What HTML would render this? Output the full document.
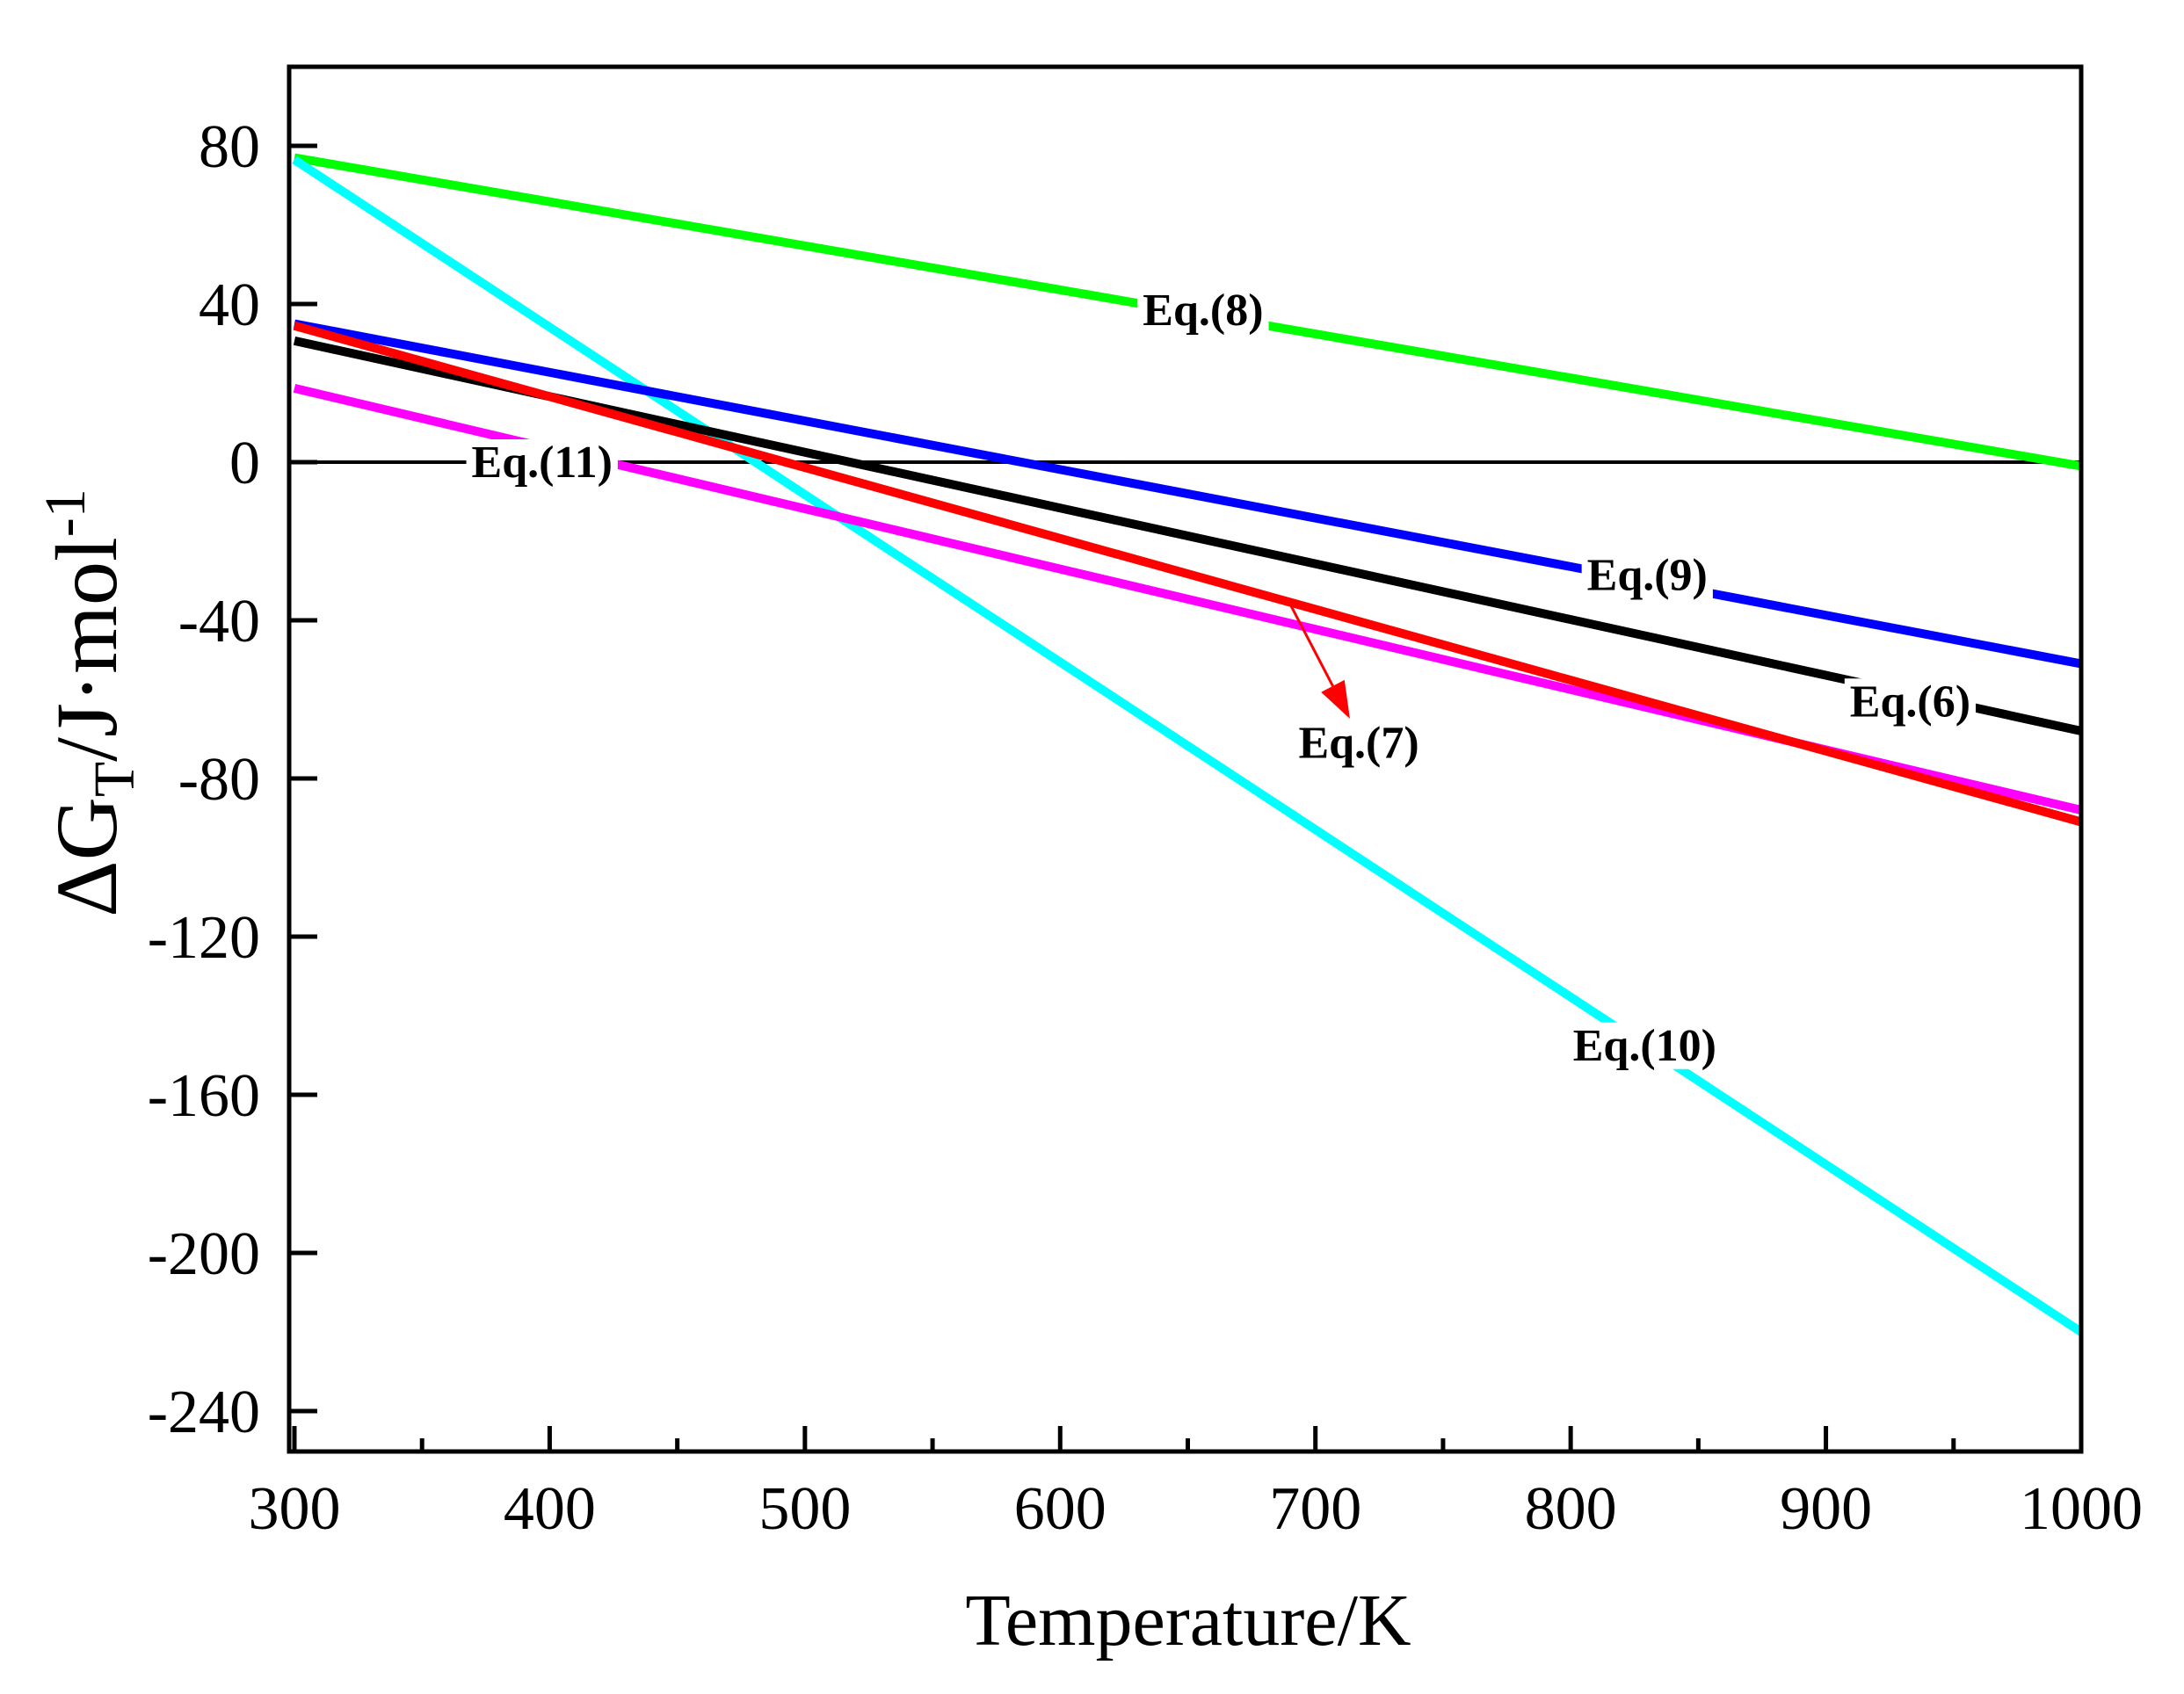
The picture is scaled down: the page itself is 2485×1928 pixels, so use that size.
<!DOCTYPE html>
<html><head><meta charset="utf-8"><style>
html,body{margin:0;padding:0;background:#fff;}
svg{display:block;font-family:"Liberation Serif",serif;}
</style></head><body>
<svg id="chart" width="2485" height="1928" viewBox="0 0 2485 1928" xmlns="http://www.w3.org/2000/svg">
<rect x="0" y="0" width="2485" height="1928" fill="#fff"/>
<g id="plot"></g>
</svg>
<script>
const xTicks = [300,400,500,600,700,800,900,1000];
const yTicks = [80,40,0,-40,-80,-120,-160,-200,-240];
const yTickLabels = ["80","40","0","-40","-80","-120","-160","-200","-240"];
const seriesNames = ["eq6","eq7","eq8","eq9","eq10","eq11"];
const tempPoints = [300,1000];
const eq6Values = [30.7,-68];
const eq7Values = [34.5,-91];
const eq8Values = [77,-1];
const eq9Values = [35,-51];
const eq10Values = [76.5,-220];
const eq11Values = [18.7,-88];
const labelText = ["Eq.(8)","Eq.(11)","Eq.(9)","Eq.(6)","Eq.(7)","Eq.(10)"];
const labelT = [656,397,830,933,717,829];
const labelV = [38.4,0,-28.5,-60.5,-71,-147.5];

const NS="http://www.w3.org/2000/svg";
const L=329,R=2368,T=76,B=1652;
function X(v){return 335+(v-300)*(2368-335)/700;}
function Y(v){return 526-v*4.5;}
const g=document.getElementById('plot');
function mk(tag,attrs,parent){const e=document.createElementNS(NS,tag);for(const k in attrs)e.setAttribute(k,attrs[k]);(parent||g).appendChild(e);return e;}

let zl=mk('line',{x1:L,x2:R,y1:Y(0),y2:Y(0),stroke:'#000','stroke-width':4});



const series=[
 {vals:eq8Values,color:'#00ff00',name:'line-eq8'},
 {vals:eq10Values,color:'#00ffff',name:'line-eq10'},
 {vals:eq9Values,color:'#0000ff',name:'line-eq9'},
 {vals:eq6Values,color:'#000000',name:'line-eq6'},
 {vals:eq11Values,color:'#ff00ff',name:'line-eq11'},
 {vals:eq7Values,color:'#ff0000',name:'line-eq7'}
];
const clip=mk('clipPath',{id:'pc'});
mk('rect',{x:L,y:T,width:R-L,height:B-T},clip);
series.forEach(s=>{
  const pts=tempPoints.map((t,i)=>X(t)+','+Y(s.vals[i])).join(' ');
  const p=mk('polyline',{points:pts,fill:'none',stroke:s.color,'stroke-width':10,'clip-path':'url(#pc)'});
  
  
});

const ax1=X(690),ay1=Y(-35.8),ax2=X(713.5),ay2=Y(-64.9);
const ang=Math.atan2(ay2-ay1,ax2-ax1);
const hl=42,hw=15;
const bx=ax2-hl*Math.cos(ang),by=ay2-hl*Math.sin(ang);
let al=mk('line',{x1:ax1,y1:ay1,x2:bx,y2:by,stroke:'#ff0000','stroke-width':3});


let ah=mk('polygon',{points:`${ax2},${ay2} ${bx+hw*Math.sin(ang)},${by-hw*Math.cos(ang)} ${bx-hw*Math.sin(ang)},${by+hw*Math.cos(ang)}`,fill:'#ff0000'});



labelText.forEach((t,i)=>{
  const hasBg = i!==4;
  let bg=null;
  if(hasBg){
    bg=mk('rect',{fill:'#fff'});
    
    
  }
  const tx=mk('text',{x:X(labelT[i]),y:Y(labelV[i])+17,'text-anchor':'middle','font-size':52,'font-weight':'bold',fill:'#000'});
  tx.textContent=t;
  
  
  if(bg){
    const bb=tx.getBBox();
    bg.setAttribute('x',bb.x-6);bg.setAttribute('y',bb.y+2);
    bg.setAttribute('width',bb.width+12);bg.setAttribute('height',bb.height-4);
  }
});

let fr=mk('rect',{x:L,y:T,width:R-L,height:B-T,fill:'none',stroke:'#000','stroke-width':5});



xTicks.forEach(v=>{
  let t=mk('line',{x1:X(v),x2:X(v),y1:B,y2:B-29,stroke:'#000','stroke-width':5});
  
  
  let tl=mk('text',{x:X(v),y:1740,'text-anchor':'middle','font-size':70,fill:'#000'});
  tl.textContent=String(v);
  
  
});
for(let v=350;v<1000;v+=100){
  let t=mk('line',{x1:X(v),x2:X(v),y1:B,y2:B-15,stroke:'#000','stroke-width':5});
  
  
}
yTicks.forEach((v,i)=>{
  let t=mk('line',{x1:L,x2:L+32,y1:Y(v),y2:Y(v),stroke:'#000','stroke-width':5});
  
  
  let tl=mk('text',{x:296,y:Y(v)+24,'text-anchor':'end','font-size':70,fill:'#000'});
  tl.textContent=yTickLabels[i];
  
  
});
for(let v=100;v>=-240;v-=40){
  let vv=v-20; if(vv<=-250) continue;
  let t=mk('line',{x1:L,x2:L+17,y1:Y(vv),y2:Y(vv),stroke:'#000','stroke-width':5});
  
  
}
let xt=mk('text',{x:1352,y:1872,'text-anchor':'middle','font-size':84,fill:'#000'});
xt.textContent='Temperature/K';


let yt=mk('text',{x:0,y:0,'text-anchor':'middle','font-size':100,fill:'#000',transform:'translate(132,800) rotate(-90)'});
yt.innerHTML='ΔG<tspan font-size="66" dy="20">T</tspan><tspan dy="-20">/J·mol</tspan><tspan font-size="66" dy="-36">-1</tspan>';


</script>
</body></html>
